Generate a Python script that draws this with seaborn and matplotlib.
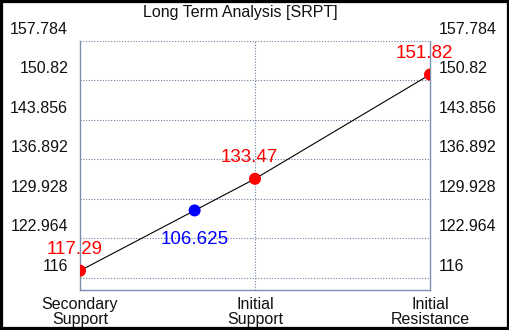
import matplotlib
matplotlib.use("Agg")
import matplotlib.pyplot as plt
import matplotlib.transforms as mtransforms
from matplotlib.patches import Rectangle
import pandas as pd
import seaborn as sns

# levels (x position on the category axis, plotted value, label text)
level_names = ["Secondary\nSupport", "Initial\nSupport", "Initial\nResistance"]
level_x = [0, 1, 2]
level_values = [117.29, 133.47, 151.82]
level_labels = ["117.29", "133.47", "151.82"]

price_x = 0.655
price_value = 127.9
price_label = "106.625"

y_ticks = [116, 122.964, 129.928, 136.892, 143.856, 150.82, 157.784]
y_tick_labels = ["116", "122.964", "129.928", "136.892", "143.856", "150.82", "157.784"]

sns.set_theme(style="white")
plt.rcParams["font.family"] = ["Liberation Sans", "DejaVu Sans"]

levels = pd.DataFrame({"x": level_x, "value": level_values})

fig = plt.figure(figsize=(5.1, 3.3), dpi=100)
ax = fig.add_axes([80 / 510, 1 - 290 / 330, 350 / 510, (290 - 40.7) / 330])

sns.lineplot(data=levels, x="x", y="value", color="black", lw=0.8, ax=ax)
sns.scatterplot(data=levels, x="x", y="value", color="#ff0000", s=75,
                edgecolor="none", zorder=5, ax=ax)
ax.scatter([price_x], [price_value], color="#0000ff", s=75, edgecolor="none", zorder=5)

for x, v, t in zip(level_x, level_values, level_labels):
    ax.annotate(t, (x, v), xytext=(-4, 15), textcoords="offset points",
                ha="center", va="center", color="#ff0000", fontsize=13.5)
ax.annotate(price_label, (price_x, price_value), xytext=(0, -21),
            textcoords="offset points", ha="center", va="center",
            color="#0000ff", fontsize=13.5)

ax.set_xlim(0, 2)
ax.set_ylim(113.89, 157.784)
ax.set_xticks(level_x)
ax.set_xticklabels(level_names, fontsize=11.5, linespacing=1.0)
ax.set_yticks(y_ticks)
ax.set_yticklabels(y_tick_labels, fontsize=11.5)
ax.set_xlabel("")
ax.set_ylabel("")

ax.tick_params(axis="y", length=0, pad=8.5, labelright=True, right=False,
               labelcolor="#111111", labelsize=11.5)
ax.tick_params(axis="x", length=0, pad=5, labelcolor="#111111")

# tick labels sit above their grid lines in the reference
up = mtransforms.ScaledTranslation(0, 13 / 100, fig.dpi_scale_trans)
up_left = mtransforms.ScaledTranslation(-3 / 100, 13 / 100, fig.dpi_scale_trans)
for tick in ax.yaxis.get_major_ticks():
    tick.label1.set_transform(tick.label1.get_transform() + up)
    tick.label2.set_transform(tick.label2.get_transform() + up_left)

grid_color = "#6d7e9c"
ax.grid(True, axis="y", color=grid_color, linestyle=(0, (1, 1.5)), lw=0.8)
ax.axvline(1, color=grid_color, linestyle=(0, (1, 1.5)), lw=0.8, zorder=0)
ax.grid(False, axis="x")

for side in ["left", "right", "bottom"]:
    ax.spines[side].set_color("#7b8fae")
    ax.spines[side].set_linewidth(1.0)
ax.spines["top"].set_visible(False)

fig.text(240.5 / 510, 1 - 12 / 330, "Long Term Analysis [SRPT]", ha="center",
         va="center", fontsize=11.5, color="#111111")

fig.patches.append(Rectangle((0, 0), 1, 1, transform=fig.transFigure, fill=False,
                             edgecolor="black", lw=4.5))

fig.savefig("out.png", dpi=100)
